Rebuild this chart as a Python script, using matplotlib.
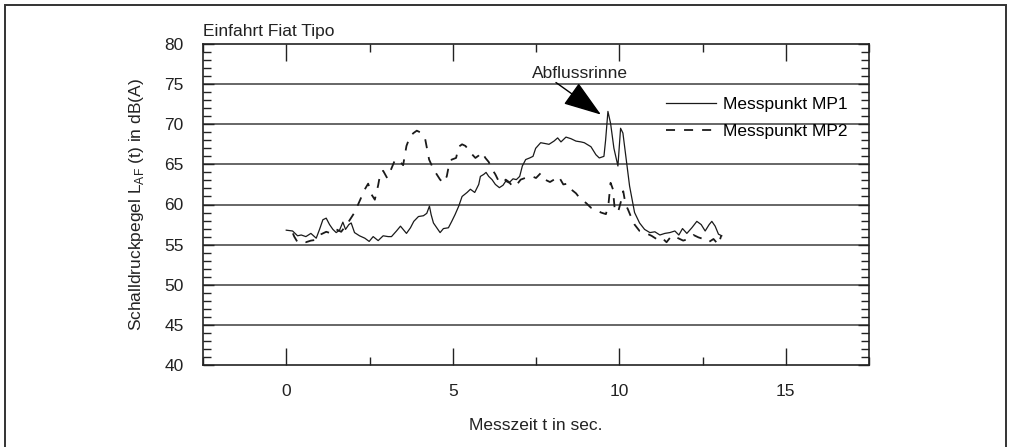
import numpy as np
import matplotlib.pyplot as plt
from matplotlib.patches import Rectangle

plt.rcParams['font.family'] = ['Liberation Sans', 'DejaVu Sans']

# Messpunkt MP1 (durchgezogen)
t_mp1 = [0.0, 0.19, 0.34, 0.45, 0.59, 0.74, 0.9, 1.0, 1.1, 1.2, 1.3, 1.4, 1.5, 1.6,
         1.7, 1.78, 1.88, 1.95, 2.05, 2.2, 2.36, 2.49, 2.61, 2.76, 2.91, 3.06, 3.16,
         3.31, 3.43, 3.51, 3.61, 3.73, 3.83, 3.97, 4.12, 4.22, 4.3, 4.35, 4.42, 4.52,
         4.62, 4.72, 4.87, 4.97, 5.07, 5.18, 5.28, 5.43, 5.53, 5.66, 5.78, 5.83, 5.93,
         6.0, 6.08, 6.18, 6.28, 6.4, 6.51, 6.59, 6.69, 6.81, 6.91, 7.01, 7.09, 7.19,
         7.31, 7.41, 7.49, 7.64, 7.77, 7.89, 8.04, 8.15, 8.25, 8.4, 8.55, 8.7, 8.85,
         8.95, 9.15, 9.3, 9.4, 9.54, 9.59, 9.66, 9.74, 9.84, 9.96, 10.04, 10.11, 10.21,
         10.31, 10.46, 10.61, 10.76, 10.92, 11.07, 11.22, 11.37, 11.52, 11.67, 11.79,
         11.9, 12.03, 12.18, 12.33, 12.46, 12.58, 12.7, 12.78, 12.88, 12.98, 13.08]
L_mp1 = [56.8, 56.7, 56.1, 56.2, 56.0, 56.4, 55.8, 56.9, 58.1, 58.3, 57.5, 56.9, 56.5, 56.8,
         57.8, 56.9, 57.5, 57.7, 56.5, 56.1, 55.8, 55.4, 56.0, 55.5, 56.1, 56.0, 56.0,
         56.7, 57.3, 56.9, 56.4, 57.1, 57.9, 58.5, 58.6, 58.9, 59.8, 58.75, 57.7, 57.1,
         56.5, 57.0, 57.1, 57.9, 58.75, 59.8, 61.0, 61.5, 61.9, 61.5, 62.5, 63.5, 63.75,
         64.0, 63.5, 63.1, 62.5, 62.1, 62.4, 62.9, 62.7, 63.2, 63.1, 63.5, 64.8, 65.6,
         65.8, 66.0, 67.0, 67.7, 67.6, 67.5, 67.9, 68.3, 67.8, 68.4, 68.2, 67.9, 67.8,
         67.7, 67.2, 66.2, 65.8, 66.0, 68.0, 71.6, 70.1, 67.0, 64.8, 69.5, 68.9, 65.6,
         62.3, 59.0, 57.7, 56.9, 56.5, 56.6, 56.2, 56.4, 56.5, 56.7, 56.2,
         57.0, 56.4, 57.1, 57.9, 57.5, 56.7, 57.5, 57.9, 57.3, 56.3, 56.1]

# Messpunkt MP2 (gestrichelt)
t_mp2 = [0.2, 0.24, 0.34, 0.45, 0.59, 0.74, 0.9, 1.05, 1.2, 1.35, 1.5, 1.65, 1.85, 2.05,
         2.2, 2.36, 2.46, 2.56, 2.66, 2.76, 2.83, 2.91, 3.03, 3.11, 3.26, 3.36, 3.51,
         3.61, 3.72, 3.82, 3.92, 4.02, 4.17, 4.29, 4.42, 4.52, 4.62, 4.72, 4.82, 4.9,
         4.97, 5.1, 5.18, 5.28, 5.38, 5.46, 5.58, 5.68, 5.78, 5.88, 5.98, 6.08, 6.18,
         6.28, 6.38, 6.51, 6.59, 6.69, 6.81, 6.91, 7.04, 7.17, 7.39, 7.5, 7.64, 7.77,
         7.92, 8.04, 8.18, 8.32, 8.45, 8.55, 8.7, 8.85, 9.0, 9.15, 9.3, 9.45, 9.6, 9.68,
         9.74, 9.81, 9.86, 9.96, 10.04, 10.12, 10.19, 10.26, 10.34, 10.46, 10.61, 10.76,
         10.97, 11.12, 11.27, 11.42, 11.57, 11.72, 11.92, 12.07, 12.23, 12.38, 12.53,
         12.68, 12.83, 12.98, 13.06]
L_mp2 = [56.4, 56.0, 55.3, 55.4, 55.3, 55.5, 55.6, 56.3, 56.6, 56.4, 56.9, 56.6, 57.7, 59.0,
         60.4, 61.9, 62.6, 61.25, 60.6, 62.4, 64.0, 64.2, 63.3, 64.0, 65.5, 65.6, 64.9,
         67.3, 68.5, 68.9, 69.2, 69.0, 68.2, 65.6, 64.4, 63.75, 63.1, 62.7, 63.5, 65.2,
         65.6, 65.8, 67.2, 67.5, 67.3, 66.9, 66.25, 65.8, 66.1, 66.5, 65.8, 65.3, 64.4,
         63.75, 62.9, 62.7, 63.1, 62.8, 62.2, 62.4, 63.1, 63.3, 63.5, 63.3, 63.9, 63.1,
         62.8, 63.1, 63.5, 62.5, 62.6, 61.9, 61.4, 60.6, 60.2, 59.6, 59.4, 59.0, 58.8, 60.2,
         62.7, 61.9, 59.6, 59.0, 60.2, 61.65, 60.0, 59.4, 58.6, 57.5, 56.7, 56.5,
         56.1, 55.7, 55.9, 55.3, 56.1, 55.9, 55.5, 55.7, 56.2, 55.9, 55.7,
         55.3, 55.7, 55.0, 56.1]

# annotation: label position, arrow tail and tip (data units)
note_text = (8.81, 75.8)
arrow_tail = (8.1, 75.2)
arrow_tip = (9.45, 71.2)

fig = plt.figure(figsize=(10.14, 4.47), dpi=100)
ax = fig.add_axes([203 / 1014, 1 - 365 / 447, 666 / 1014, 321 / 447])

# outer frame around the whole picture
fig.patches.append(Rectangle((5 / 1014, -0.05), 1001 / 1014, 1.05 - 5 / 447,
                             transform=fig.transFigure, fill=False,
                             edgecolor='#333333', lw=1.4, zorder=0))

for y in range(45, 80, 5):
    ax.axhline(y, color='#4d4d4d', lw=1.2, zorder=1)

ax.plot(t_mp1, L_mp1, color='#1a1a1a', lw=0.9, label='Messpunkt MP1', zorder=3)
ax.plot(t_mp2, L_mp2, color='#1a1a1a', lw=1.3, linestyle=(0, (5, 5)),
        label='Messpunkt MP2', zorder=3)

ax.set_xlim(-2.5, 17.5)
ax.set_ylim(40, 80)
ax.set_xticks([0, 5, 10, 15])
ax.set_xticks([-2.5, 2.5, 7.5, 12.5, 17.5], minor=True)
ax.set_yticks(range(40, 81, 5))
ax.set_yticks(range(40, 81, 1), minor=True)
ax.tick_params(axis='both', which='both', direction='in', top=True, right=True,
               labelsize=12.5, colors='#222222')
ax.tick_params(axis='x', which='major', length=12, width=1, pad=14)
ax.tick_params(axis='x', which='minor', length=6, width=1)
ax.tick_params(axis='y', which='major', length=8, width=1, pad=14)
ax.tick_params(axis='y', which='minor', length=6, width=1)
for s in ax.spines.values():
    s.set_linewidth(1.2)
    s.set_color('#222222')

ax.set_xlabel('Messzeit t in sec.', fontsize=12.5, labelpad=13, color='#222222')
ax.set_ylabel('Schalldruckpegel L$_{\\mathregular{AF}}$ (t) in dB(A)', fontsize=12.5,
              labelpad=13, color='#222222')
ax.set_title('Einfahrt Fiat Tipo', loc='left', fontsize=12.5, pad=6, color='#222222')

ax.annotate('', xy=arrow_tip, xytext=arrow_tail,
            arrowprops=dict(arrowstyle='-|>,head_length=1.6,head_width=0.55',
                            mutation_scale=15, color='black', lw=1,
                            shrinkA=0, shrinkB=0), zorder=4)
ax.text(*note_text, 'Abflussrinne', ha='center', va='baseline', fontsize=12.5,
        color='#222222')

ax.legend(loc='upper left', bbox_to_anchor=(0.695, 0.835), frameon=False,
          fontsize=12.5, handlelength=2.9, handletextpad=0.4, labelspacing=0.7,
          borderpad=0, borderaxespad=0)

fig.savefig('out.png', dpi=100)
